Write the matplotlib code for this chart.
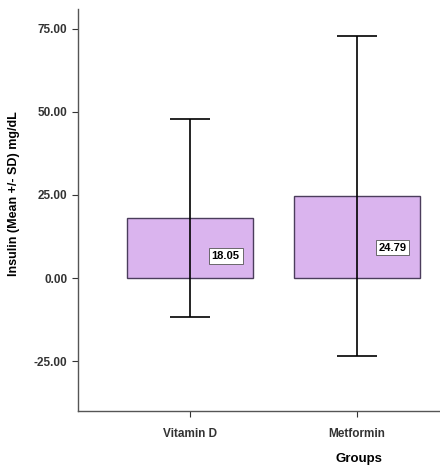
import matplotlib
matplotlib.use("Agg")
import matplotlib.pyplot as plt
import numpy as np

groups = ["Vitamin D", "Metformin"]
means = [18.05, 24.79]
sds = [29.9, 48.1]
yticks = [-25, 0, 25, 50, 75]

plt.rcParams['font.family'] = ['Liberation Sans', 'DejaVu Sans']

def main():
    fig = plt.figure(figsize=(4.4, 4.66), dpi=100)
    ax = fig.add_axes([0.177, 0.118, 0.823, 0.863])

    x = np.arange(len(groups))
    ax.bar(x, means, width=0.755, color='#dab4ee', edgecolor='#4b3d5c', linewidth=1.0, zorder=2)
    ax.errorbar(x, means, yerr=sds, fmt='none', ecolor='black', elinewidth=1.2,
                capsize=14.5, capthick=1.2, zorder=3)

    for xi, m in zip(x, means):
        ax.text(xi + 0.216, m * 0.37, "%.2f" % m, ha='center', va='center', fontsize=8,
                fontweight='bold', zorder=4,
                bbox=dict(boxstyle='square,pad=0.25', facecolor='white', edgecolor='#555555', linewidth=0.6))

    ax.set_xlim(-0.67, 1.5)
    ax.set_ylim(-40, 81)
    ax.set_yticks(yticks)
    ax.set_yticklabels(["%.2f" % v for v in yticks])
    ax.set_xticks(x)
    ax.set_xticklabels(groups)
    ax.tick_params(axis='both', labelsize=8.5, length=4, width=0.8, colors='#333333')
    ax.tick_params(axis='x', pad=8)
    for lab in ax.get_xticklabels() + ax.get_yticklabels():
        lab.set_fontweight('bold')

    ax.spines['top'].set_visible(False)
    ax.spines['right'].set_visible(False)
    for s in ['left', 'bottom']:
        ax.spines[s].set_color('#555555')
        ax.spines[s].set_linewidth(1.0)

    ax.set_ylabel("Insulin (Mean +/- SD) mg/dL", fontsize=9, fontweight='bold')
    ax.set_xlabel("Groups", fontsize=9.5, fontweight='bold')
    ax.yaxis.set_label_coords(-0.16, 0.54)
    ax.xaxis.set_label_coords(0.775, -0.105)

    fig.savefig("out.png", dpi=100)


if __name__ == '__main__':
    main()
